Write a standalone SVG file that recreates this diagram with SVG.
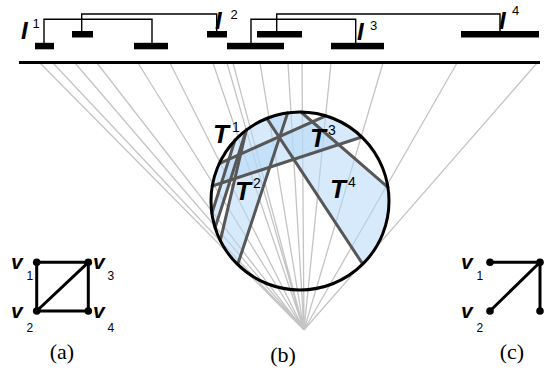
<svg xmlns="http://www.w3.org/2000/svg" width="545" height="376" viewBox="0 0 545 376">
<style>
.bar{fill:#000}
.con{fill:none;stroke:#000;stroke-width:1.4}
.ray{stroke:#c4c4c4;stroke-width:1.3;fill:none}
.ch{stroke:#575757;stroke-width:3;fill:none;stroke-linecap:round}
.tz{fill:#b7d8f8;fill-opacity:0.55;stroke:none}
.big{font-family:"Liberation Sans",Arial,sans-serif;font-weight:bold;font-style:italic;fill:#000}
.sup{font-family:"Liberation Sans",Arial,sans-serif;fill:#000}
.cap{font-family:"Liberation Serif","Times New Roman",serif;font-size:22px;fill:#000}
.edge{stroke:#000;stroke-width:3;fill:none}
</style>
<defs>
<clipPath id="cc"><circle cx="300" cy="201" r="89"/></clipPath>
</defs>
<rect width="545" height="376" fill="#fff"/>
<g id="rays">
<path class="ray" d="M304 330L40 63M304 330L53 63M304 330L75 63M304 330L97 63M304 330L138 63M304 330L170 63M304 330L213 63M304 330L227 63M304 330L233 63M304 330L260 63M304 330L288 63M304 330L302 63M304 330L331 63M304 330L383 63M304 330L457 63M304 330L537 63"/>
</g>
<g id="baseline"><line x1="19" y1="62.5" x2="540" y2="62.5" stroke="#000" stroke-width="3"/></g>
<g id="intervals">
<rect class="bar" x="35" y="42.8" width="19" height="6.5"/>
<rect class="bar" x="72" y="31" width="21" height="6.5"/>
<rect class="bar" x="134" y="42.8" width="34" height="6.5"/>
<rect class="bar" x="207" y="31" width="20" height="6.5"/>
<rect class="bar" x="227" y="42.8" width="57" height="6.5"/>
<rect class="bar" x="257" y="31" width="45" height="6.5"/>
<rect class="bar" x="331" y="42.8" width="53" height="6.5"/>
<rect class="bar" x="461" y="31" width="78" height="6.5"/>
</g>
<g id="connectors">
<path class="con" d="M44 43V19.3H152V43"/>
<path class="con" d="M81.7 31V14H216.7V31"/>
<path class="con" d="M251 43V19.3H355.7V43"/>
<path class="con" d="M276.7 31V14H500V31"/>
</g>
<g id="interval-labels">
<text class="big" x="21" y="38.5" font-size="24">I</text><text class="sup" x="32.5" y="28" font-size="13">1</text>
<text class="big" x="215" y="28.5" font-size="24">I</text><text class="sup" x="230.5" y="18.5" font-size="13">2</text>
<text class="big" x="357" y="39.5" font-size="24">I</text><text class="sup" x="370" y="30" font-size="13">3</text>
<text class="big" x="499" y="28.5" font-size="24">I</text><text class="sup" x="512" y="14.5" font-size="13">4</text>
</g>
<g id="trapezoids" clip-path="url(#cc)">
<path id="T4" class="tz" d="M266.8 118.4L362 263A89 89 0 0 0 388 187.3L301 112A89 89 0 0 0 266.8 118.4Z"/>
<path id="T3" class="tz" d="M212.3 186L361.8 137A89 89 0 0 0 325.7 115.8L219.2 163.6A89 89 0 0 0 212.3 186Z"/>
<path id="T2" class="tz" d="M238 263.5L287.7 112.8A89 89 0 0 0 246.3 130L220.3 240.6A89 89 0 0 0 238 263.5Z"/>
<path id="T1" class="tz" d="M215.1 227.7L246.3 130A89 89 0 0 0 235 140L211.9 213.4A89 89 0 0 0 215.1 227.7Z"/>
</g>
<g id="chords">
<line class="ch" x1="266.8" y1="118.4" x2="362" y2="263"/>
<line class="ch" x1="301" y1="112" x2="388" y2="187.3"/>
<line class="ch" x1="212.3" y1="186" x2="361.8" y2="137"/>
<line class="ch" x1="219.2" y1="163.6" x2="325.7" y2="115.8"/>
<line class="ch" x1="287.7" y1="112.8" x2="238" y2="263.5"/>
<line class="ch" x1="246.3" y1="130" x2="220.3" y2="240.6"/>
<line class="ch" x1="246.3" y1="130" x2="215.1" y2="227.7"/>
<line class="ch" x1="235" y1="140" x2="211.9" y2="213.4"/>
</g>
<g id="circle"><circle cx="300" cy="201" r="89" fill="none" stroke="#000" stroke-width="3"/></g>
<g id="trap-labels">
<text class="big" x="213" y="143" font-size="26">T</text><text class="sup" x="232" y="132" font-size="14">1</text>
<text class="big" x="235" y="200" font-size="26">T</text><text class="sup" x="253" y="188" font-size="14">2</text>
<text class="big" x="310" y="147" font-size="26">T</text><text class="sup" x="328" y="135" font-size="14">3</text>
<text class="big" x="330" y="198" font-size="26">T</text><text class="sup" x="348" y="187" font-size="14">4</text>
</g>
<g id="graph-a">
<g id="a-edges">
<path class="edge" d="M36.7 262.3H88.3V311H36.7ZM36.7 311L88.3 262.3"/>
</g>
<g id="a-v1"><circle cx="36.7" cy="262.3" r="3.8"/><text class="big" x="11" y="268.5" font-size="21">v</text><text class="sup" x="26.5" y="280" font-size="12">1</text></g>
<g id="a-v2"><circle cx="36.7" cy="311" r="3.8"/><text class="big" x="11" y="317.5" font-size="21">v</text><text class="sup" x="26.5" y="332" font-size="12">2</text></g>
<g id="a-v3"><circle cx="88.3" cy="262.3" r="3.8"/><text class="big" x="93" y="268.5" font-size="21">v</text><text class="sup" x="107.5" y="280" font-size="12">3</text></g>
<g id="a-v4"><circle cx="88.3" cy="311" r="3.8"/><text class="big" x="93" y="317.5" font-size="21">v</text><text class="sup" x="107.5" y="332" font-size="12">4</text></g>
<text class="cap" x="62" y="359" text-anchor="middle">(a)</text>
</g>
<g id="graph-c">
<path class="edge" d="M490 262.3H540V311M490 311L540 262.3"/>
<g id="c-v1"><circle cx="490" cy="262.3" r="3.8"/><text class="big" x="461" y="268.5" font-size="21">v</text><text class="sup" x="476.5" y="280" font-size="12">1</text></g>
<g id="c-v2"><circle cx="490" cy="311" r="3.8"/><text class="big" x="461" y="317.5" font-size="21">v</text><text class="sup" x="476.5" y="332" font-size="12">2</text></g>
<g id="c-v3"><circle cx="540" cy="262.3" r="3.8"/></g>
<g id="c-v4"><circle cx="540" cy="311" r="3.8"/></g>
<text class="cap" x="512" y="359" text-anchor="middle">(c)</text>
</g>
<text class="cap" x="283" y="362" text-anchor="middle">(b)</text>
</svg>
